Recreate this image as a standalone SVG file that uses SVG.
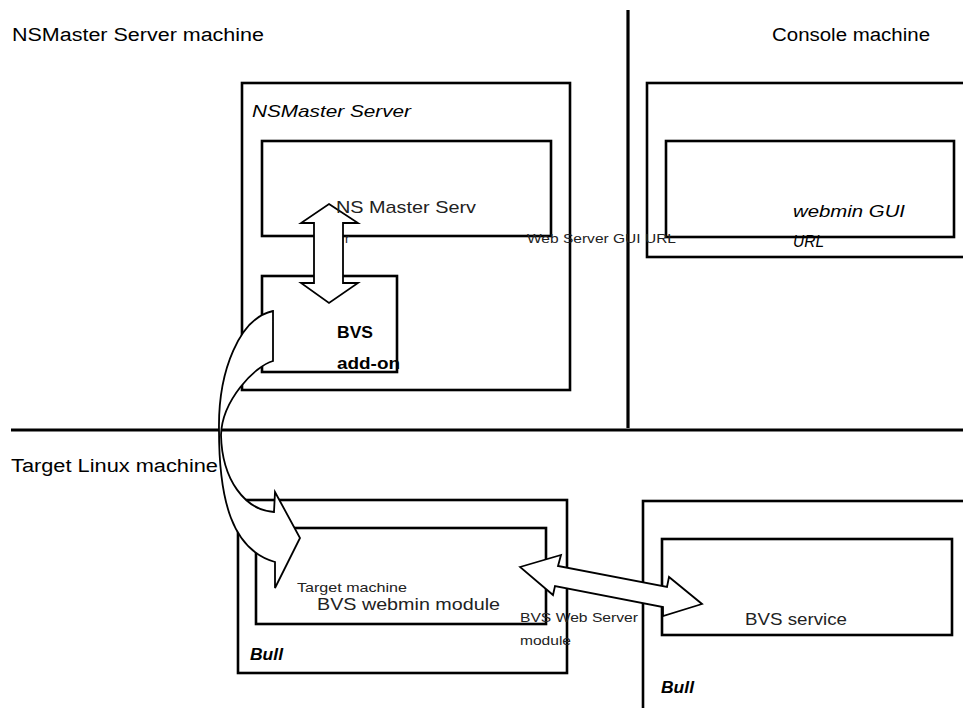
<svg xmlns="http://www.w3.org/2000/svg" width="963" height="708" viewBox="0 0 963 708">
<style>
.box{fill:none;stroke:#000;stroke-width:2.6}
.div{fill:none;stroke:#000;stroke-width:3.2}
.arr{fill:#fff;stroke:#000;stroke-width:1.8;stroke-linejoin:miter}
text{font-family:"Liberation Sans",Arial,sans-serif;fill:#000}
.hdr{font-size:18px}
.it{font-size:17px;font-style:italic}
.lt{font-size:17px;fill:#222}
.sm{font-size:13px;fill:#222}
.bd{font-size:17px;font-weight:bold}
.bull{font-size:17px;font-weight:bold;font-style:italic}
</style>
<rect width="963" height="708" fill="#fff"/>
<g id="dividers">
<line class="div" x1="628" y1="10" x2="628" y2="428"/>
<line class="div" x1="11" y1="430" x2="963" y2="430"/>
</g>
<g id="region-nsmaster"><text class="hdr" x="12" y="41" textLength="252" lengthAdjust="spacingAndGlyphs">NSMaster Server machine</text></g>
<g id="region-console"><text class="hdr" x="772" y="41" textLength="158" lengthAdjust="spacingAndGlyphs">Console machine</text></g>
<g id="region-target"><text class="hdr" x="11" y="472" textLength="207" lengthAdjust="spacingAndGlyphs">Target Linux machine</text></g>

<g id="nsmaster-server">
<rect class="box" x="242" y="83" width="328" height="307"/>
<text class="it" x="252" y="117" textLength="159" lengthAdjust="spacingAndGlyphs">NSMaster Server</text>
</g>
<g id="ns-master-serv">
<rect class="box" x="262" y="141" width="289" height="95"/>
</g>
<g id="bvs-addon">
<rect class="box" x="262" y="276" width="135" height="96"/>
</g>
<g id="console">
<rect class="box" x="647" y="83" width="330" height="174"/>
</g>
<g id="webmin-gui">
<rect class="box" x="666" y="141" width="288" height="96"/>
</g>
<g id="bull-target">
<rect class="box" x="238" y="500" width="329" height="173"/>
<text class="bull" x="250" y="660" textLength="33" lengthAdjust="spacingAndGlyphs">Bull</text>
</g>
<g id="bvs-webmin">
<rect class="box" x="256" y="528" width="290" height="96"/>
</g>
<g id="bull-service">
<rect class="box" x="643" y="501" width="340" height="230"/>
<text class="bull" x="661" y="693" textLength="33" lengthAdjust="spacingAndGlyphs">Bull</text>
</g>
<g id="bvs-service">
<rect class="box" x="662" y="539" width="290" height="96"/>
</g>

<g id="connectors">
<polygon class="arr" points="329,204 358,223 343,223 343,283 358,283 329,303 301,283 314,283 314,223 301,223"/>
<polygon class="arr" points="520,567 561,555 558,566 667,587 669,577 702,604 663,616 663,607 555,586 553,595"/>
<path class="arr" d="M273,311 C240,318 218,370 219,430 C219,500 232,550 275,562 L275,588 L300,538 L275,492 L274,512 C245,510 222,480 221,435 C222,400 255,366 273,361 Z"/>
</g>

<g id="labels">
<text class="lt" x="336" y="213" textLength="140" lengthAdjust="spacingAndGlyphs">NS Master Serv</text>
<text class="sm" x="345" y="243">r</text>
<text class="bd" x="337" y="338" textLength="36" lengthAdjust="spacingAndGlyphs">BVS</text>
<text class="bd" x="337" y="369" textLength="63" lengthAdjust="spacingAndGlyphs">add-on</text>
<text class="sm" x="527" y="243" textLength="149" lengthAdjust="spacingAndGlyphs">Web Server GUI URL</text>
<text class="it" x="793" y="217" textLength="112" lengthAdjust="spacingAndGlyphs">webmin GUI</text>
<text class="it" x="793" y="247" textLength="31" lengthAdjust="spacingAndGlyphs">URL</text>
<text class="sm" x="297" y="592" textLength="110" lengthAdjust="spacingAndGlyphs">Target machine</text>
<text class="lt" x="317" y="610" textLength="183" lengthAdjust="spacingAndGlyphs">BVS webmin module</text>
<text class="sm" x="520" y="622" textLength="118" lengthAdjust="spacingAndGlyphs">BVS Web Server</text>
<text class="sm" x="520" y="645" textLength="51" lengthAdjust="spacingAndGlyphs">module</text>
<text class="lt" x="745" y="625" textLength="102" lengthAdjust="spacingAndGlyphs">BVS service</text>
</g>
</svg>
